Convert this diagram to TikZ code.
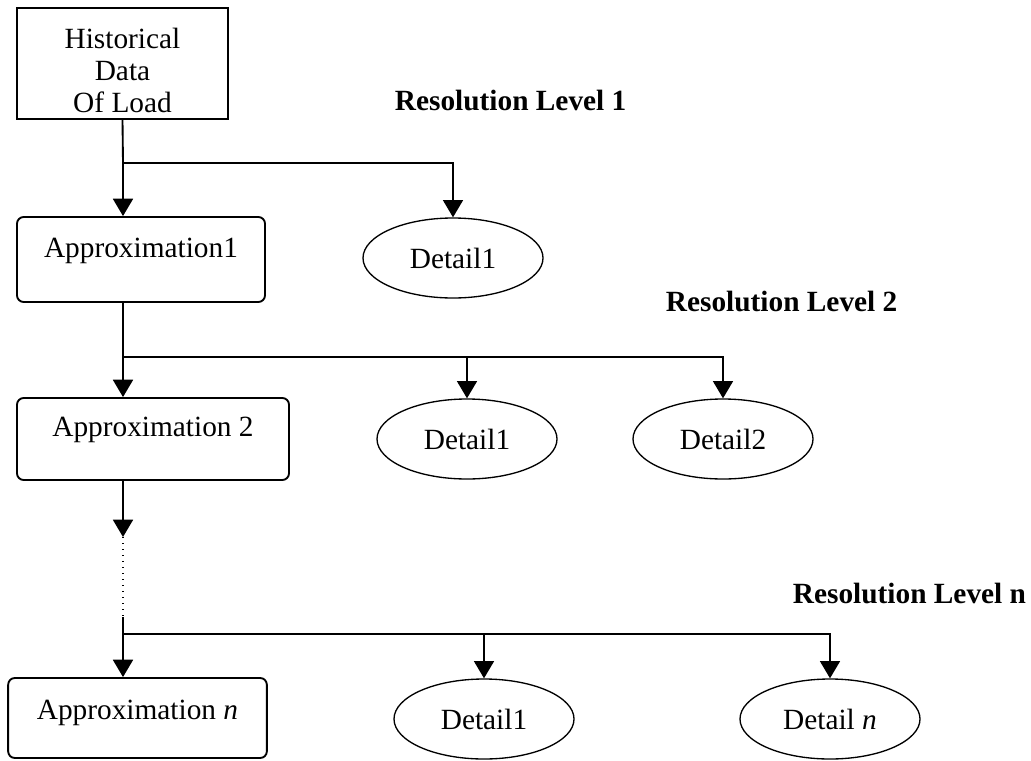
\documentclass[tikz,border=0pt]{standalone}
\usepackage{fontspec}
\setmainfont{Liberation Serif}
\usetikzlibrary{arrows.meta,shapes.geometric}
\tikzset{
	txt/.style={font=\fontsize{22}{24}\selectfont},
	approx/.style={draw,line width=1.4pt,rounded corners=5pt,txt},
	detail/.style={draw,ellipse,line width=1pt,minimum width=135pt,minimum height=60pt,inner sep=0pt,txt},
	arr/.style={-{Triangle[width=15pt,length=13pt]}},
	level/.style={anchor=west,inner sep=0pt,font=\fontsize{22}{24}\selectfont\bfseries},
}
\begin{document}
\begin{tikzpicture}[x=0.75pt,y=-0.75pt,line width=1.4pt]
	\useasboundingbox (0,0) rectangle (1031,760);
	\node[draw,txt,align=center,minimum width=158pt,minimum height=83pt] (hist) at (122.5,63.5) {\rule{0pt}{26pt}Historical\\Data\\Of Load};
	\node[approx,minimum width=186pt,minimum height=63.75pt,label={[txt,anchor=center,yshift=-26pt]north:Approximation1}] (a1) at (141,259.5) {};
	\node[approx,minimum width=204pt,minimum height=61.5pt,label={[txt,anchor=center,yshift=-25pt]north:Approximation 2}] (a2) at (153,439) {};
	\node[approx,minimum width=194pt,minimum height=60pt,label={[txt,anchor=center,yshift=-27pt]north:Approximation \textit{n}}] (an) at (137.5,718) {};
	\foreach \n/\x/\y/\t in {d11/453/258/Detail1, d21/467/439/Detail1, d22/723/439/Detail2, dn1/484/719/Detail1, dnn/830/719/Detail \textit{n}} {
		\node[detail] (\n) at (\x,\y) {\t};
	}
	\node[level] (lev1) at (394,101) {Resolution Level 1};
	\node[level] (lev2) at (665,301) {Resolution Level 2};
	\node[level] (levn) at (792,593) {Resolution Level n};
	% branch points on the main line
	\coordinate (b1) at (123,163);
	\coordinate (b2) at (123,357);
	\coordinate (gap) at (123,537);
	\coordinate (gapend) at (123,617);
	\coordinate (bn) at (123,634);
	\draw (hist.south) -- (b1);
	\draw[arr] (b1) -- (b1 |- a1.north);
	\draw[arr] (b1) -| (d11.north);
	\draw (b1 |- a1.south) -- (b2);
	\draw[arr] (b2) -- (b2 |- a2.north);
	\draw[arr] (b2) -| (d21.north);
	\draw[arr] (b2) -| (d22.north);
	\draw[arr] (b2 |- a2.south) -- (gap);
	\draw[line width=1pt,dash pattern=on 1pt off 3.5pt] (gap) -- (gapend);
	\draw (gapend) -- (bn);
	\draw[arr] (bn) -- (bn |- an.north);
	\draw[arr] (bn) -| (dn1.north);
	\draw[arr] (bn) -| (dnn.north);
\end{tikzpicture}
\end{document}
